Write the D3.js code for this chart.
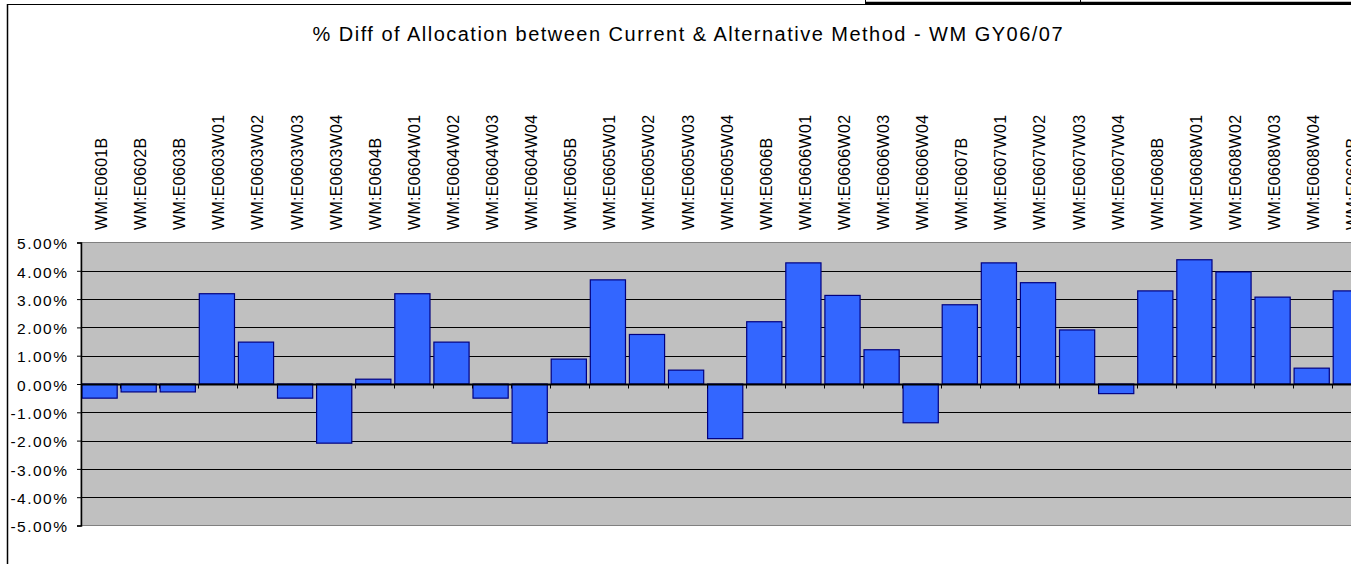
<!DOCTYPE html>
<html>
<head>
<meta charset="utf-8">
<script src="https://cdn.jsdelivr.net/npm/d3@7"></script>
<style>
  html, body { margin: 0; padding: 0; background: #fff; overflow: hidden; }
  svg { display: block; }
  text { font-family: "Liberation Sans", Arial, sans-serif; fill: #000; }
</style>
</head>
<body>
<svg id="chart" width="1351" height="564"></svg>
<script>
const title = "% Diff of Allocation between Current & Alternative Method - WM GY06/07";
const categories = [
  "WM:E0601B", "WM:E0602B", "WM:E0603B",
  "WM:E0603W01", "WM:E0603W02", "WM:E0603W03", "WM:E0603W04",
  "WM:E0604B", "WM:E0604W01", "WM:E0604W02", "WM:E0604W03", "WM:E0604W04",
  "WM:E0605B", "WM:E0605W01", "WM:E0605W02", "WM:E0605W03", "WM:E0605W04",
  "WM:E0606B", "WM:E0606W01", "WM:E0606W02", "WM:E0606W03", "WM:E0606W04",
  "WM:E0607B", "WM:E0607W01", "WM:E0607W02", "WM:E0607W03", "WM:E0607W04",
  "WM:E0608B", "WM:E0608W01", "WM:E0608W02", "WM:E0608W03", "WM:E0608W04",
  "WM:E0609B"
];
const values = [
  -0.50, -0.28, -0.28,
  3.19, 1.48, -0.50, -2.09,
  0.17, 3.19, 1.48, -0.50, -2.09,
  0.88, 3.68, 1.75, 0.49, -1.93,
  2.20, 4.28, 3.13, 1.21, -1.37,
  2.80, 4.28, 3.58, 1.91, -0.34,
  3.29, 4.39, 3.96, 3.07, 0.56,
  3.29
];
const yTicks = [5, 4, 3, 2, 1, 0, -1, -2, -3, -4, -5];

const svg = d3.select("#chart");

// outer chart frame (extends beyond the picture on right/bottom)
svg.append("line").attr("x1", 7.5).attr("x2", 7.5).attr("y1", 4).attr("y2", 564)
  .attr("stroke", "#000").attr("stroke-width", 1.5);
svg.append("line").attr("x1", 7).attr("x2", 1351).attr("y1", 4.5).attr("y2", 4.5)
  .attr("stroke", "#000").attr("stroke-width", 1.2);
// spreadsheet cell borders above the chart
svg.append("line").attr("x1", 865).attr("x2", 1351).attr("y1", 3).attr("y2", 3)
  .attr("stroke", "#000").attr("stroke-width", 2.5);
[865.5, 1080.5].forEach(xx => {
  svg.append("line").attr("x1", xx).attr("x2", xx).attr("y1", 0).attr("y2", 4)
    .attr("stroke", "#000").attr("stroke-width", 1);
});

const left = 81, step = 39.1;
const x = d3.scaleBand().domain(categories)
  .range([left, left + step * categories.length]).paddingInner(0).paddingOuter(0);
const y = d3.scaleLinear().domain([-5, 5]).range([525.5, 242.5]);

// title
svg.append("text")
  .attr("x", 312.5).attr("y", 41)
  .attr("font-size", 20)
  .attr("textLength", 750).attr("lengthAdjust", "spacing")
  .text(title);

// plot area
const [x0, x1] = x.range();
svg.append("rect")
  .attr("x", x0).attr("y", y(5))
  .attr("width", x1 - x0).attr("height", y(-5) - y(5))
  .attr("fill", "#C0C0C0").attr("stroke", "#808080").attr("stroke-width", 1);

// gridlines
svg.append("g").selectAll("line")
  .data(yTicks.filter(t => t !== 5 && t !== -5 && t !== 0))
  .join("line")
  .attr("x1", x0).attr("x2", x1)
  .attr("y1", d => Math.round(y(d)) + 0.5).attr("y2", d => Math.round(y(d)) + 0.5)
  .attr("stroke", "#000").attr("stroke-width", 1);

// bars
svg.append("g").selectAll("rect")
  .data(categories)
  .join("rect")
  .attr("x", (c) => x(c) + 1)
  .attr("width", x.bandwidth() * 0.9)
  .attr("y", (c, i) => y(Math.max(values[i], 0)))
  .attr("height", (c, i) => Math.abs(y(values[i]) - y(0)))
  .attr("fill", "#3366FF")
  .attr("stroke", "#000080").attr("stroke-width", 1.2);

// category axis (zero line) with ticks at band boundaries
const zy = Math.round(y(0)) + 0.5;
svg.append("line").attr("x1", x0).attr("x2", x1).attr("y1", zy).attr("y2", zy)
  .attr("stroke", "#000").attr("stroke-width", 2);
const bounds = categories.map(c => x(c)).concat([x1]);
svg.append("g").selectAll("line")
  .data(bounds)
  .join("line")
  .attr("x1", d => Math.round(d) + 0.5).attr("x2", d => Math.round(d) + 0.5)
  .attr("y1", zy).attr("y2", zy + 4)
  .attr("stroke", "#000").attr("stroke-width", 1);

// value axis
const yAxis = d3.axisLeft(y).tickValues(yTicks).tickSize(4).tickPadding(10)
  .tickFormat(d => d.toFixed(2) + "%");
const gy = svg.append("g").attr("transform", `translate(${left},0)`).call(yAxis);
gy.select(".domain").attr("stroke", "#000").attr("stroke-width", 1.5);
gy.selectAll(".tick line").attr("stroke", "#000");
gy.selectAll(".tick text")
  .attr("font-family", '"Liberation Sans", Arial, sans-serif')
  .attr("font-size", 15.5)
  .attr("letter-spacing", 1.5)
  .attr("x", -12.5)
  .attr("dy", "0.4em")
  .attr("fill", "#000");

// category labels
svg.append("g").selectAll("text")
  .data(categories)
  .join("text")
  .attr("transform", c => `translate(${x(c) + x.bandwidth() / 2 + 6.5},230) rotate(-90)`)
  .attr("font-size", 16)
  .attr("letter-spacing", 0.3)
  .attr("text-anchor", "start")
  .text(c => c);
</script>
</body>
</html>
